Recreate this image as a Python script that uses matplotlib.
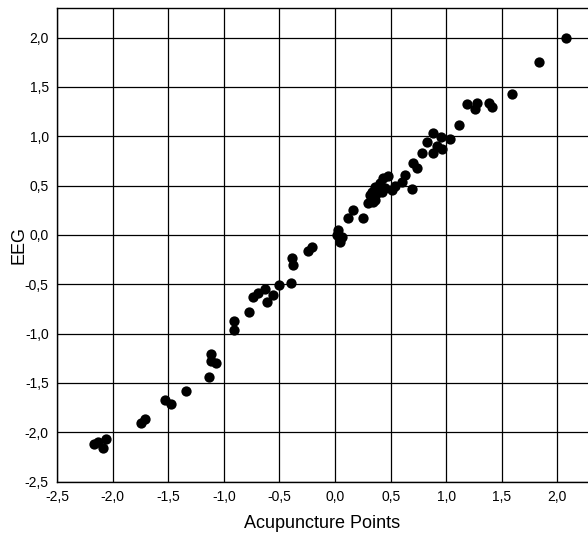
import numpy as np
import matplotlib
matplotlib.use("Agg")
import matplotlib.pyplot as plt
from matplotlib.ticker import FuncFormatter

plt.rcParams["font.family"] = ["Liberation Sans", "DejaVu Sans"]

#=====================#
# acupuncture point scores vs. EEG scores
acup = [2.077, 1.837, 1.592, 1.184, 1.274, 1.262, 1.388, 1.409, 1.112, 1.037,
        0.95, 0.879, 0.825, 0.92, 0.96, 0.884, 0.78, 0.70, 0.735, 0.63,
        0.69, 0.60, 0.54, 0.51, 0.48, 0.435, 0.405, 0.36, 0.33, 0.315,
        0.42, 0.45, 0.30, 0.345, 0.375, 0.36, 0.165, 0.12, 0.25, 0.03,
        0.015, 0.06, 0.045, -0.21, -0.24, -0.39, -0.375, -0.40, -0.504, -0.555,
        -0.614, -0.63, -0.69, -0.74, -0.77, -0.908, -0.908, -1.115, -1.115, -1.073,
        -1.136, -1.34, -1.53, -1.477, -1.71, -1.745, -2.06, -2.17, -2.09, -2.13]
eeg = [2.0, 1.757, 1.43, 1.33, 1.34, 1.274, 1.34, 1.294, 1.112, 0.972,
       0.996, 1.03, 0.945, 0.90, 0.87, 0.83, 0.834, 0.732, 0.68, 0.607,
       0.47, 0.54, 0.50, 0.455, 0.60, 0.574, 0.523, 0.489, 0.438, 0.405,
       0.438, 0.473, 0.32, 0.337, 0.42, 0.354, 0.253, 0.168, 0.175, 0.05,
       0.0, -0.02, -0.07, -0.12, -0.163, -0.237, -0.305, -0.485, -0.508, -0.61,
       -0.677, -0.55, -0.586, -0.627, -0.78, -0.87, -0.965, -1.208, -1.276, -1.302,
       -1.438, -1.58, -1.674, -1.715, -1.87, -1.905, -2.07, -2.12, -2.16, -2.10]
ticks = [-2.5, -2.0, -1.5, -1.0, -0.5, 0.0, 0.5, 1.0, 1.5, 2.0]
#=====================#

fig = plt.figure(figsize=(5.88, 5.35), dpi=100)
ax = fig.add_axes([0.097, 0.1, 0.903, 0.885])

ax.scatter(acup, eeg, s=55, color="black", zorder=3, linewidths=0)

ax.set_xlim(-2.5, 2.275)
ax.set_ylim(-2.5, 2.3)
ax.set_xticks(ticks)
ax.set_yticks(ticks)
comma = FuncFormatter(lambda v, p: f"{v:.1f}".replace(".", ","))
ax.xaxis.set_major_formatter(comma)
ax.yaxis.set_major_formatter(comma)
ax.tick_params(length=0, labelsize=10)
ax.tick_params(axis="x", pad=6)
ax.tick_params(axis="y", pad=6)

ax.grid(True, color="black", linewidth=0.9)
ax.set_axisbelow(True)
ax.spines["right"].set_visible(False)
for s in ["left", "top", "bottom"]:
    ax.spines[s].set_linewidth(1.0)

ax.set_xlabel("Acupuncture Points", fontsize=13, labelpad=8)
ax.set_ylabel("EEG", fontsize=13, labelpad=-2)

fig.savefig("out.png", dpi=100)
